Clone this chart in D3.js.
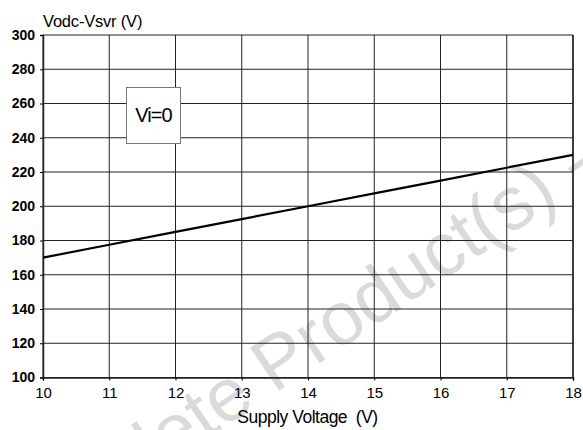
<!DOCTYPE html>
<html>
<head>
<meta charset="utf-8">
<script src="https://cdn.jsdelivr.net/npm/d3@7"></script>
<style>
  body { margin: 0; background: #fff; }
  text { font-family: "Liberation Sans", Arial, sans-serif; }
</style>
</head>
<body>
<div id="chart"></div>
<script>
// values at each volt
const supplyVoltage = [10, 11, 12, 13, 14, 15, 16, 17, 18];
const vodcVsvr = [170, 177.5, 185, 192.5, 200, 207.5, 215, 222.5, 230];

const xTicks = [10, 11, 12, 13, 14, 15, 16, 17, 18];
const yTicks = [100, 120, 140, 160, 180, 200, 220, 240, 260, 280, 300];

const width = 583, height = 430;
const margin = { top: 35, right: 10, bottom: 52.5, left: 43 };

const svg = d3.select('#chart')
  .append('svg')
  .attr('viewBox', [0, 0, width, height])
  .attr('width', width)
  .attr('height', height);

const x = d3.scaleLinear()
  .domain([10, 18])
  .range([margin.left, width - margin.right]);

const y = d3.scaleLinear()
  .domain([100, 300])
  .range([height - margin.bottom, margin.top]);

// watermark, under everything else
const wm = svg.append('g')
  .attr('transform', 'translate(274,394) rotate(-34)')
  .attr('fill', '#dadada')
  .attr('font-size', 75);
wm.append('text').attr('x', -20).attr('text-anchor', 'end').text('Obsolete');
wm.append('text').attr('x', 0).attr('text-anchor', 'start').text('Product(s) -');

// grid
svg.append('g')
  .selectAll('line')
  .data(xTicks)
  .join('line')
  .attr('x1', d => x(d)).attr('x2', d => x(d))
  .attr('y1', y(100)).attr('y2', y(300))
  .attr('stroke', '#222')
  .attr('stroke-width', 1);

svg.append('g')
  .selectAll('line')
  .data(yTicks)
  .join('line')
  .attr('x1', x(10)).attr('x2', x(18))
  .attr('y1', d => y(d)).attr('y2', d => y(d))
  .attr('stroke', '#222')
  .attr('stroke-width', 1);

// axes
const xAxis = svg.append('g')
  .attr('transform', `translate(0,${y(100)})`)
  .call(d3.axisBottom(x).tickValues(xTicks).tickSize(3).tickPadding(7));
xAxis.select('.domain').attr('stroke', '#222').attr('stroke-width', 1.5);
xAxis.selectAll('text')
  .attr('font-size', 15)
  .attr('fill', '#000')
  .attr('font-family', '"Liberation Sans", Arial, sans-serif');

const yAxis = svg.append('g')
  .attr('transform', `translate(${x(10)},0)`)
  .call(d3.axisLeft(y).tickValues(yTicks).tickSize(3).tickPadding(5));
yAxis.select('.domain').attr('stroke', '#222').attr('stroke-width', 1.5);
yAxis.selectAll('text')
  .attr('font-size', 14)
  .attr('font-weight', 'bold')
  .attr('fill', '#000')
  .attr('font-family', '"Liberation Sans", Arial, sans-serif');

// right border
svg.append('line')
  .attr('x1', x(18)).attr('x2', x(18))
  .attr('y1', y(100)).attr('y2', y(300))
  .attr('stroke', '#222').attr('stroke-width', 1.5);

// curve
svg.append('path')
  .datum(supplyVoltage.map((v, i) => [v, vodcVsvr[i]]))
  .attr('fill', 'none')
  .attr('stroke', '#000')
  .attr('stroke-width', 2.2)
  .attr('d', d3.line().x(d => x(d[0])).y(d => y(d[1])));

// condition box
svg.append('rect')
  .attr('x', 126.5).attr('y', 87.5)
  .attr('width', 54).attr('height', 56)
  .attr('fill', '#fff')
  .attr('stroke', '#777')
  .attr('stroke-width', 1);
svg.append('text')
  .attr('x', 153.5).attr('y', 122)
  .attr('text-anchor', 'middle')
  .attr('font-size', 20)
  .attr('letter-spacing', -0.9)
  .text('Vi=0');

// titles
svg.append('text')
  .attr('x', 43).attr('y', 27)
  .attr('font-size', 16.5)
  .attr('letter-spacing', -0.2)
  .text('Vodc-Vsvr (V)');

svg.append('text')
  .attr('x', 307.5).attr('y', 423)
  .attr('text-anchor', 'middle')
  .attr('font-size', 17.5)
  .attr('letter-spacing', -0.5)
  .style('white-space', 'pre')
  .text('Supply Voltage  (V)');
</script>
</body>
</html>
